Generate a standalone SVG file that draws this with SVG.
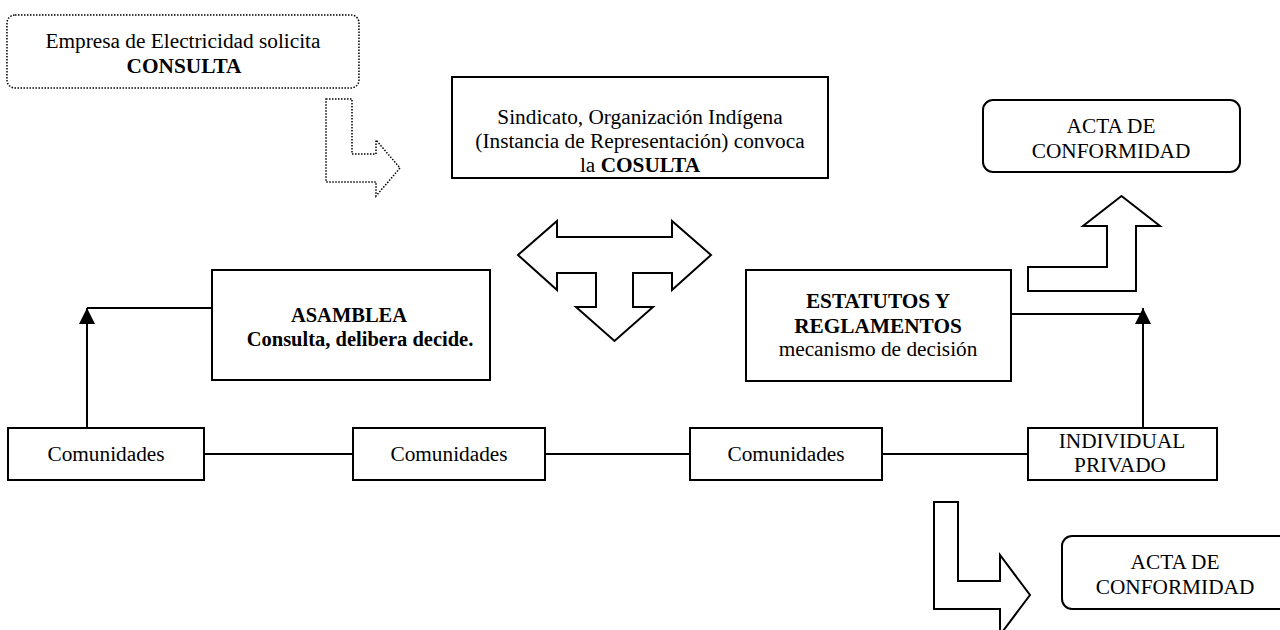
<svg xmlns="http://www.w3.org/2000/svg" width="1280" height="630" viewBox="0 0 1280 630">
<style>
.box{fill:#fff;stroke:#000;stroke-width:2}
.dot{fill:#fff;stroke:#000;stroke-width:1.5;stroke-dasharray:1.5 1.5}
.shape{fill:#fff;stroke:#000;stroke-width:2;stroke-linejoin:miter}
.ln{fill:none;stroke:#000;stroke-width:2}
text{font-family:"Liberation Serif","Times New Roman",serif;font-size:21.3px;fill:#000;text-anchor:middle}
.b{font-weight:bold}
.s{font-size:20.5px}
</style>
<defs>
<marker id="ah" viewBox="0 0 16 16" refX="16" refY="8" markerWidth="16" markerHeight="16" markerUnits="userSpaceOnUse" orient="auto">
<path d="M0,0 L16,8 L0,16 Z" fill="#000"/>
</marker>
</defs>
<rect width="1280" height="630" fill="#fff"/>

<g id="empresa">
<rect class="dot" x="7" y="15" width="352" height="73" rx="8"/>
<text x="183" y="48">Empresa de Electricidad solicita</text>
<text x="184" y="73" class="b">CONSULTA</text>
</g>

<g id="arrow-dotted">
<polygon class="dot" points="326,99 352,99 352,154 376,154 376,140 400,168 376,196 376,182 326,182"/>
</g>

<g id="sindicato">
<rect class="box" x="452" y="77" width="376" height="101"/>
<text x="640" y="124">Sindicato, Organización Indígena</text>
<text x="640" y="148">(Instancia de Representación) convoca</text>
<text x="640" y="172">la <tspan class="b">COSULTA</tspan></text>
</g>

<g id="arrow-tee">
<polygon class="shape" points="518,255 557,221 557,237 672,237 672,221 711,255 672,290 672,273 633,273 633,307 653,307 614.5,341 576,307 596,307 596,273 557,273 557,290"/>
</g>

<g id="acta-top">
<rect class="box" x="983" y="100" width="257" height="72" rx="10"/>
<text x="1111" y="133">ACTA DE</text>
<text x="1111" y="158">CONFORMIDAD</text>
</g>

<g id="arrow-up">
<polygon class="shape" points="1028,267 1107,267 1107,226 1083,226 1121.5,196 1160,226 1136,226 1136,291 1028,291"/>
</g>

<g id="asamblea">
<rect class="box" x="212" y="270" width="278" height="110"/>
<text x="349" y="322" class="b s">ASAMBLEA</text>
<text x="360" y="346" class="b s">Consulta, delibera decide.</text>
</g>

<g id="estatutos">
<rect class="box" x="746" y="270" width="265" height="111"/>
<text x="878" y="308" class="b">ESTATUTOS Y</text>
<text x="878" y="333" class="b">REGLAMENTOS</text>
<text x="878" y="356">mecanismo de decisión</text>
</g>

<g id="connectors">
<line class="ln" x1="212" y1="308" x2="87" y2="308"/>
<line class="ln" x1="87" y1="428" x2="87" y2="308" marker-end="url(#ah)"/>
<line class="ln" x1="1012" y1="314" x2="1143" y2="314"/>
<line class="ln" x1="1143" y1="428" x2="1143" y2="308" marker-end="url(#ah)"/>
<line class="ln" x1="204" y1="454" x2="353" y2="454"/>
<line class="ln" x1="545" y1="454" x2="690" y2="454"/>
<line class="ln" x1="882" y1="454" x2="1028" y2="454"/>
</g>

<g id="comunidades-1">
<rect class="box" x="8" y="428" width="196" height="52"/>
<text x="106" y="461">Comunidades</text>
</g>
<g id="comunidades-2">
<rect class="box" x="353" y="428" width="192" height="52"/>
<text x="449" y="461">Comunidades</text>
</g>
<g id="comunidades-3">
<rect class="box" x="690" y="428" width="192" height="52"/>
<text x="786" y="461">Comunidades</text>
</g>
<g id="individual">
<rect class="box" x="1028" y="428" width="189" height="52"/>
<text x="1122" y="448">INDIVIDUAL</text>
<text x="1120" y="472">PRIVADO</text>
</g>

<g id="arrow-right">
<polygon class="shape" points="934,502 958,502 958,581 1000,581 1000,555 1030,595 1000,635 1000,609 934,609"/>
</g>

<g id="acta-bottom">
<rect class="box" x="1062" y="536" width="230" height="73" rx="10"/>
<text x="1175" y="569">ACTA DE</text>
<text x="1175" y="594">CONFORMIDAD</text>
</g>
</svg>
